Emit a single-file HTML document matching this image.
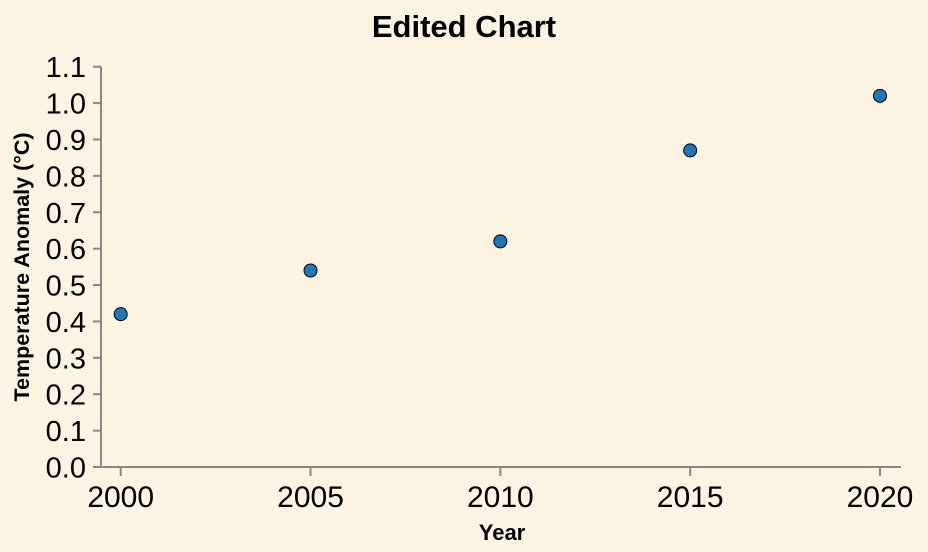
<!DOCTYPE html>
<html><head><meta charset="utf-8"><style>body{margin:0;background:#fdf3e3}svg{display:block}text{font-family:"Liberation Sans",Arial,sans-serif}</style></head>
<body>
<svg id="chart" width="928" height="552" xmlns="http://www.w3.org/2000/svg">
<rect width="928" height="552" fill="#fdf3e3"/>
<text x="464" y="37" text-anchor="middle" font-size="31" font-weight="bold" fill="#000">Edited Chart</text>
<g id="axes"></g><g id="marks"></g>
<text x="502" y="540" text-anchor="middle" font-size="22" font-weight="bold" fill="#000">Year</text>
<text transform="translate(29,267) rotate(-90)" text-anchor="middle" font-size="21.5" font-weight="bold" fill="#000">Temperature Anomaly (°C)</text>
</svg>
<script>
const years=[2000,2005,2010,2015,2020];
const anomalies=[0.42,0.54,0.62,0.87,1.02];
const yTicks=[0,0.1,0.2,0.3,0.4,0.5,0.6,0.7,0.8,0.9,1.0,1.1];
const xTicks=[2000,2005,2010,2015,2020];
const NS="http://www.w3.org/2000/svg";
const X=v=>120.7+(v-2000)*(880-120.7)/20;
const Y=v=>467-v*(467-66.7)/1.1;
function mk(t,a,p){const e=document.createElementNS(NS,t);for(const k in a)e.setAttribute(k,a[k]);p.appendChild(e);return e;}
const ax=document.getElementById('axes'),mg=document.getElementById('marks');
let l=mk('line',{x1:101,y1:66.7,x2:101,y2:467,stroke:'#888','stroke-width':2},ax);


l=mk('line',{x1:101,y1:467,x2:901,y2:467,stroke:'#888','stroke-width':2},ax);


yTicks.forEach(v=>{const y=Y(v);
 const t=mk('line',{x1:93,y1:y,x2:101,y2:y,stroke:'#888','stroke-width':2},ax);
 
 
 const s=mk('text',{x:86,y:y+10.5,'text-anchor':'end','font-size':29,fill:'#000'},ax);s.textContent=v.toFixed(1);
 
 });
xTicks.forEach(v=>{const x=X(v);
 const t=mk('line',{x1:x,y1:467,x2:x,y2:476,stroke:'#888','stroke-width':2},ax);
 
 
 const s=mk('text',{x:x,y:507,'text-anchor':'middle','font-size':30,fill:'#000'},ax);s.textContent=v;
 
 });
years.forEach((yr,i)=>{const c=mk('circle',{cx:X(yr),cy:Y(anomalies[i]),r:6.5,fill:'#1f77b4',stroke:'#000','stroke-width':1},mg);
 
 });
</script>
</body></html>
